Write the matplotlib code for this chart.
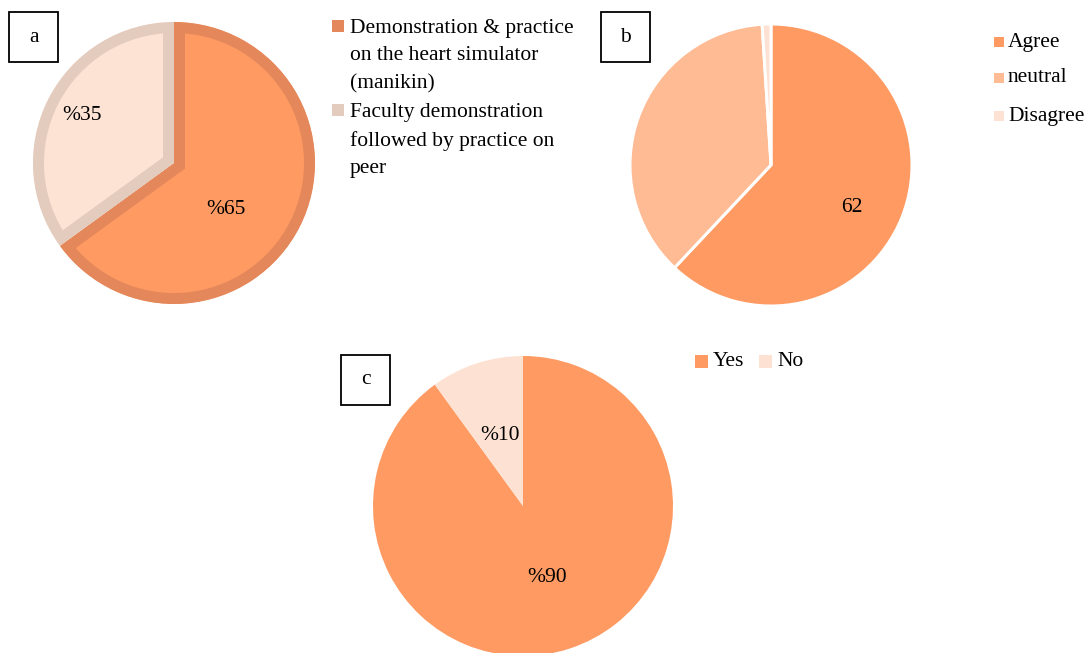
import matplotlib.pyplot as plt
from matplotlib.patches import Rectangle

# %% data
a_labels = ['Demonstration & practice\non the heart simulator\n(manikin)',
            'Faculty demonstration\nfollowed by practice on\npeer']
a_values = [65, 35]
a_faces = ['#FE9A62', '#FCE3D4']
a_edges = ['#E4875A', '#E3CBBD']

b_labels = ['Agree', 'neutral', 'Disagree']
b_values = [62, 37, 1]
b_colors = ['#FE9A62', '#FFBB94', '#FDE1D3']

c_labels = ['Yes', 'No']
c_values = [90, 10]
c_colors = ['#FE9A62', '#FDE2D3']

# %% figure in pixel coordinates (y counted from top)
W, H = 1084, 653
plt.rcParams['font.family'] = ['Liberation Serif', 'DejaVu Serif']
fig = plt.figure(figsize=(W / 100, H / 100), dpi=100)
ax = fig.add_axes([0, 0, 1, 1])


def Y(y):
    return H - y


px = 72 / 100  # points per pixel
fs = 15.5

# %% chart a  (thick border kept inside each slice)
wa, _ = ax.pie(a_values, colors=a_faces, startangle=90, counterclock=False,
               center=(174, Y(163)), radius=141,
               wedgeprops=dict(linewidth=22 * px))
for w, ec in zip(wa, a_edges):
    w.set_edgecolor(ec)
    w.set_clip_on(True)      # pie turns clipping off
    w.set_clip_path(w)
ax.text(226, Y(210), f'%{a_values[0]}', ha='center', va='center', fontsize=fs)
ax.text(82, Y(116), f'%{a_values[1]}', ha='center', va='center', fontsize=fs)

# %% chart b
ax.pie(b_values, colors=b_colors, startangle=90, counterclock=False,
       center=(771, Y(165)), radius=141,
       wedgeprops=dict(edgecolor='white', linewidth=3 * px))
ax.text(852, Y(207), f'{b_values[0]}', ha='center', va='center', fontsize=fs)

# %% chart c
ax.pie(c_values, colors=c_colors, startangle=90, counterclock=False,
       center=(523, Y(506)), radius=150)
ax.text(547, Y(578), f'%{c_values[0]}', ha='center', va='center', fontsize=fs)
ax.text(500, Y(436), f'%{c_values[1]}', ha='center', va='center', fontsize=fs)

# %% legends
# a: marker beside first line of each entry
y = 26
for lab, col in zip(a_labels, a_edges):
    ax.add_patch(Rectangle((332, Y(y) - 6), 12, 12, color=col, lw=0))
    ax.text(350, Y(y - 7), lab, ha='left', va='top', fontsize=fs,
            linespacing=1.6)
    y += 28 * (lab.count('\n') + 1)

for lab, col, yy in zip(b_labels, b_colors, [42, 78, 116]):
    ax.add_patch(Rectangle((994, Y(yy) - 5), 10, 10, color=col, lw=0))
    ax.text(1008, Y(yy), lab, ha='left', va='center', fontsize=fs)

for lab, col, xx in zip(c_labels, c_colors, [695, 759]):
    ax.add_patch(Rectangle((xx, Y(361) - 6.5), 13, 13, color=col, lw=0))
    ax.text(xx + 18, Y(361), lab, ha='left', va='center', fontsize=fs)

# %% panel letter boxes
for letter, x0, y0 in [('a', 9, 12), ('b', 601, 12), ('c', 341, 355)]:
    ax.add_patch(Rectangle((x0, Y(y0 + 50)), 49, 50, fill=False,
                           edgecolor='black', lw=1.3))
    ax.text(x0 + 24.5, Y(y0 + 25), letter, ha='center', va='center', fontsize=fs)

ax.set_xlim(0, W)
ax.set_ylim(0, H)
ax.set_aspect('auto')
ax.axis('off')
fig.savefig('out.png', dpi=100)
